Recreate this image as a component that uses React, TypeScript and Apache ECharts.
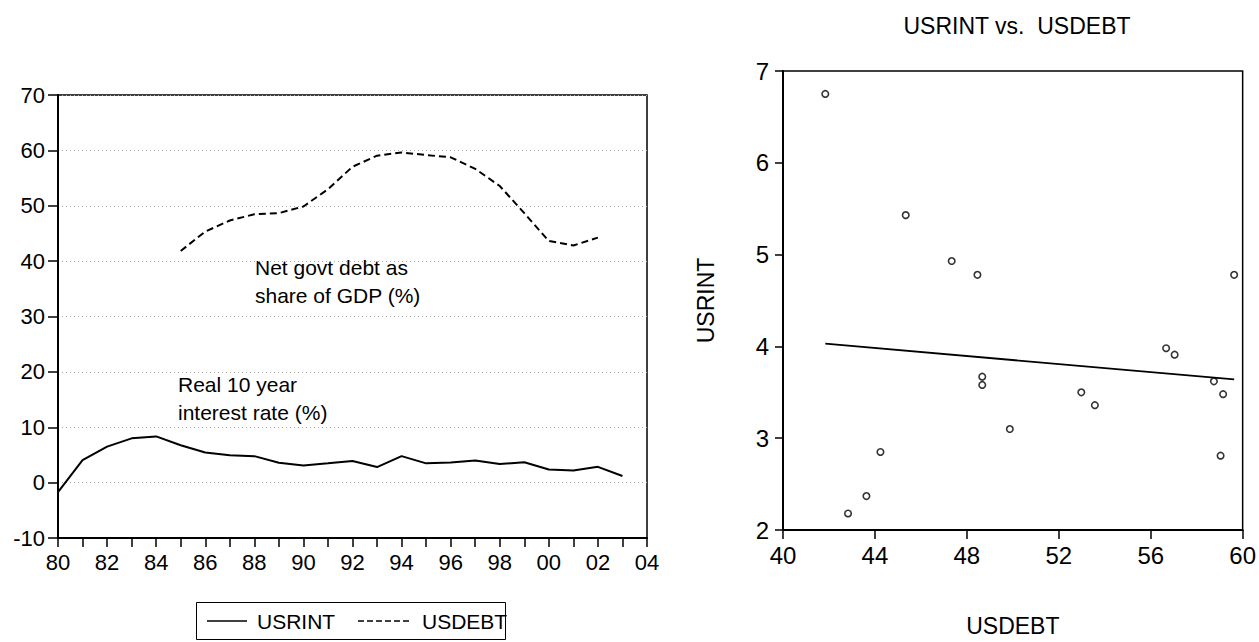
import React, { useEffect, useRef } from 'react';
import * as echarts from 'echarts';

const years = ['1980', '1981', '1982', '1983', '1984', '1985', '1986', '1987', '1988', '1989', '1990', '1991', '1992', '1993', '1994', '1995', '1996', '1997', '1998', '1999', '2000', '2001', '2002', '2003', '2004'];
const usrint = [-1.7, 4.06, 6.5, 8.0, 8.35, 6.75, 5.43, 4.93, 4.78, 3.58, 3.1, 3.5, 3.91, 2.81, 4.78, 3.48, 3.62, 3.98, 3.36, 3.67, 2.37, 2.18, 2.85, 1.19];
const usdebt = [null, null, null, null, null, 41.84, 45.34, 47.34, 48.46, 48.67, 49.87, 52.98, 57.04, 59.04, 59.63, 59.15, 58.75, 56.67, 53.57, 48.67, 43.63, 42.83, 44.24];
const fitLine = [[41.84, 4.03], [59.63, 3.64]];
const legendNames = ['USRINT', 'USDEBT'];

const FONT = '"Liberation Sans", Arial, Helvetica, sans-serif';

export default function App() {
  const ref = useRef<HTMLDivElement>(null);
  useEffect(() => {
    if (!ref.current) return;
    const chart = echarts.init(ref.current, undefined, { renderer: 'svg' });
    const scatterData: number[][] = [];
    usdebt.forEach((d, i) => {
      if (d !== null && usrint[i] !== undefined) scatterData.push([d as number, usrint[i]]);
    });
    chart.setOption({
      animation: false,
      backgroundColor: '#fff',
      textStyle: { fontFamily: FONT, color: '#000' },
      grid: [
        { left: 58, top: 95, width: 589, height: 443, show: true, borderColor: '#000', borderWidth: 1.5, containLabel: false },
        { left: 783, top: 71, width: 462, height: 467, show: true, borderColor: '#000', borderWidth: 1.5, containLabel: false },
      ],
      xAxis: [
        {
          type: 'category', gridIndex: 0, data: years, boundaryGap: false,
          axisLine: { onZero: false, lineStyle: { color: '#000', width: 2 } },
          axisTick: { show: true, interval: 0, length: 9, lineStyle: { color: '#000', width: 1.5 } },
          axisLabel: { interval: 1, margin: 13, fontSize: 22, color: '#000', fontFamily: FONT, formatter: (v: string) => v.slice(2) },
          splitLine: { show: false },
        },
        {
          type: 'value', gridIndex: 1, min: 40, max: 60, interval: 4,
          name: 'USDEBT', nameLocation: 'middle', nameGap: 84,
          nameTextStyle: { fontSize: 23, color: '#000', fontFamily: FONT },
          axisLine: { onZero: false, lineStyle: { color: '#000', width: 2 } },
          axisTick: { show: true, length: 9, lineStyle: { color: '#000', width: 1.5 } },
          axisLabel: { margin: 13, fontSize: 24, color: '#000', fontFamily: FONT },
          splitLine: { show: false },
        },
      ],
      yAxis: [
        {
          type: 'value', gridIndex: 0, min: -10, max: 70, interval: 10,
          axisLine: { show: true, onZero: false, lineStyle: { color: '#000', width: 2 } },
          axisTick: { show: true, length: 10, lineStyle: { color: '#000', width: 1.5 } },
          axisLabel: { margin: 13, fontSize: 22, color: '#000', fontFamily: FONT },
          splitLine: { show: true, lineStyle: { color: '#aaa', width: 1, type: [1, 3] } },
        },
        {
          type: 'value', gridIndex: 1, min: 2, max: 7, interval: 1,
          name: 'USRINT', nameLocation: 'middle', nameGap: 66, nameRotate: 90,
          nameTextStyle: { fontSize: 23, color: '#000', fontFamily: FONT },
          axisLine: { show: true, onZero: false, lineStyle: { color: '#000', width: 2 } },
          axisTick: { show: true, length: 8, lineStyle: { color: '#000', width: 1.5 } },
          axisLabel: { margin: 14, fontSize: 24, color: '#000', fontFamily: FONT },
          splitLine: { show: false },
        },
      ],
      series: [
        {
          name: 'USRINT', type: 'line', xAxisIndex: 0, yAxisIndex: 0, data: usrint,
          symbol: 'none', lineStyle: { color: '#000', width: 2 }, itemStyle: { color: '#000' },
        },
        {
          name: 'USDEBT', type: 'line', xAxisIndex: 0, yAxisIndex: 0, data: usdebt,
          symbol: 'none', connectNulls: false,
          lineStyle: { color: '#000', width: 2, type: [7, 4] }, itemStyle: { color: '#000' },
        },
        {
          name: 'scatter', type: 'scatter', xAxisIndex: 1, yAxisIndex: 1, data: scatterData,
          symbol: 'circle', symbolSize: 6.5,
          itemStyle: { color: '#fff', borderColor: '#000', borderWidth: 1.6 },
        },
        {
          name: 'fit', type: 'line', xAxisIndex: 1, yAxisIndex: 1, data: fitLine,
          symbol: 'none', lineStyle: { color: '#000', width: 1.8 },
        },
      ],
      graphic: [
        { type: 'text', left: 255, top: 257, style: { text: 'Net govt debt as', fontSize: 21, fill: '#000', fontFamily: FONT } },
        { type: 'text', left: 255, top: 285, style: { text: 'share of GDP (%)', fontSize: 21, fill: '#000', fontFamily: FONT } },
        { type: 'text', left: 178, top: 374, style: { text: 'Real 10 year', fontSize: 21, fill: '#000', fontFamily: FONT } },
        { type: 'text', left: 178, top: 402, style: { text: 'interest rate (%)', fontSize: 21, fill: '#000', fontFamily: FONT } },
        { type: 'text', x: 1017, y: 26, style: { text: 'USRINT vs.  USDEBT', fontSize: 23, fill: '#000', fontFamily: FONT, textAlign: 'center', textVerticalAlign: 'middle' } },
        // legend
        { type: 'rect', shape: { x: 196.5, y: 602.5, width: 309, height: 37 }, style: { fill: 'none', stroke: '#000', lineWidth: 1 } },
        { type: 'line', shape: { x1: 207, y1: 621, x2: 247, y2: 621 }, style: { stroke: '#000', lineWidth: 1.5 } },
        { type: 'text', x: 257, y: 621, style: { text: legendNames[0], fontSize: 21, fill: '#000', fontFamily: FONT, textVerticalAlign: 'middle' } },
        { type: 'line', shape: { x1: 358, y1: 621, x2: 412, y2: 621 }, style: { stroke: '#000', lineWidth: 1.5, lineDash: [6, 3] } },
        { type: 'text', x: 422, y: 621, style: { text: legendNames[1], fontSize: 21, fill: '#000', fontFamily: FONT, textVerticalAlign: 'middle' } },
      ],
    });
    return () => chart.dispose();
  }, []);
  return <div ref={ref} style={{ position: 'fixed', left: 0, top: 0, width: 1259, height: 642, background: '#fff' }} />;
}
